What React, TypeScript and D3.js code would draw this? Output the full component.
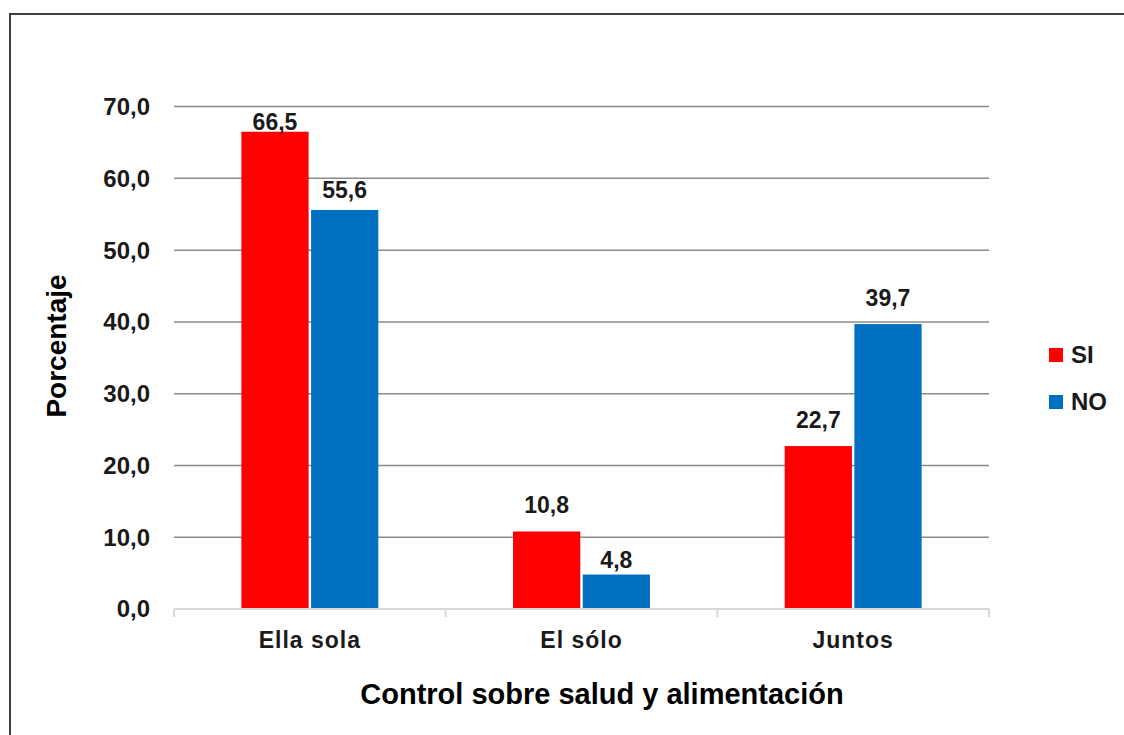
import React from "react";
import * as d3 from "d3";

const categories = ["Ella sola", "El sólo", "Juntos"];
const seriesNames = ["SI", "NO"];
const siValues = [66.5, 10.8, 22.7];
const noValues = [55.6, 4.8, 39.7];
const yTicks = [0, 10, 20, 30, 40, 50, 60, 70];
const yTitle = "Porcentaje";
const xTitle = "Control sobre salud y alimentación";

const colors = ["#FF0000", "#0070C0"];
// label lift above bar top (px), per series per category
const labelLift = [
  [2, 18.5, 18],
  [12, 7, 18],
];

const FONT = "'Liberation Sans', Arial, sans-serif";

export default function App() {
  const W = 1124;
  const H = 735;
  const plotLeft = 174;
  const plotRight = 989;
  const y = d3.scaleLinear().domain([0, 70]).range([609, 106.6]);
  const x0 = d3
    .scaleBand<string>()
    .domain(categories)
    .range([plotLeft, plotRight])
    .paddingInner(0.496)
    .paddingOuter(0.248);
  const x1 = d3
    .scaleBand<string>()
    .domain(seriesNames)
    .range([0, x0.bandwidth()])
    .paddingInner(0.035);
  const series = [siValues, noValues];
  const fmt = (v: number) => v.toFixed(1).replace(".", ",");
  const step = (plotRight - plotLeft) / categories.length;
  const boundaries = d3.range(categories.length + 1).map((i) => plotLeft + i * step);

  return (
    <svg
      width={W}
      height={H}
      style={{ position: "absolute", left: 0, top: 0, background: "#fff" }}
      fontFamily={FONT}
    >
      <rect x={0} y={0} width={W} height={H} fill="#fff" />
      <rect x={10} y={14} width={W + 20} height={H + 20} fill="none" stroke="#404040" strokeWidth={2} />
      {yTicks.slice(1).map((t) => (
        <line key={t} x1={plotLeft} x2={plotRight} y1={y(t)} y2={y(t)} stroke="#8a8a8a" strokeWidth={1.5} />
      ))}
      {yTicks.map((t) => (
        <text
          key={"l" + t}
          x={150}
          y={y(t)}
          dy="0.35em"
          textAnchor="end"
          fontSize={24}
          fontWeight="bold"
          fill="#1a1a1a"
        >
          {fmt(t)}
        </text>
      ))}
      {series.map((vals, si) =>
        vals.map((v, ci) => {
          const bx = (x0(categories[ci]) as number) + (x1(seriesNames[si]) as number);
          return (
            <rect
              key={`b${si}-${ci}`}
              x={bx}
              y={y(v)}
              width={x1.bandwidth()}
              height={y(0) - y(v)}
              fill={colors[si]}
            />
          );
        })
      )}
      <line x1={plotLeft} x2={plotRight} y1={y(0)} y2={y(0)} stroke="#d9d9d9" strokeWidth={2} />
      {boundaries.map((bx, i) => (
        <line key={"t" + i} x1={bx} x2={bx} y1={y(0)} y2={y(0) + 8} stroke="#d9d9d9" strokeWidth={2} />
      ))}
      {series.map((vals, si) =>
        vals.map((v, ci) => {
          const bx = (x0(categories[ci]) as number) + (x1(seriesNames[si]) as number) + x1.bandwidth() / 2;
          return (
            <text
              key={`v${si}-${ci}`}
              x={bx}
              y={y(v) - labelLift[si][ci]}
              textAnchor="middle"
              fontSize={23}
              fontWeight="bold"
              fill="#1a1a1a"
            >
              {fmt(v)}
            </text>
          );
        })
      )}
      {categories.map((c) => (
        <text
          key={"c" + c}
          x={(x0(c) as number) + x0.bandwidth() / 2}
          y={648}
          textAnchor="middle"
          fontSize={23}
          fontWeight="bold"
          letterSpacing={1}
          fill="#1a1a1a"
        >
          {c}
        </text>
      ))}
      <text x={602} y={704} textAnchor="middle" fontSize={29} fontWeight="bold" fill="#000">
        {xTitle}
      </text>
      <text
        transform={`translate(66,346) rotate(-90)`}
        textAnchor="middle"
        fontSize={28}
        fontWeight="bold"
        fill="#000"
      >
        {yTitle}
      </text>
      {seriesNames.map((s, i) => (
        <g key={"lg" + s} transform={`translate(1049,${348 + i * 47})`}>
          <rect x={0} y={0} width={14} height={14} fill={colors[i]} />
          <text x={22} y={15} fontSize={24} fontWeight="bold" fill="#1a1a1a">
            {s}
          </text>
        </g>
      ))}
    </svg>
  );
}
